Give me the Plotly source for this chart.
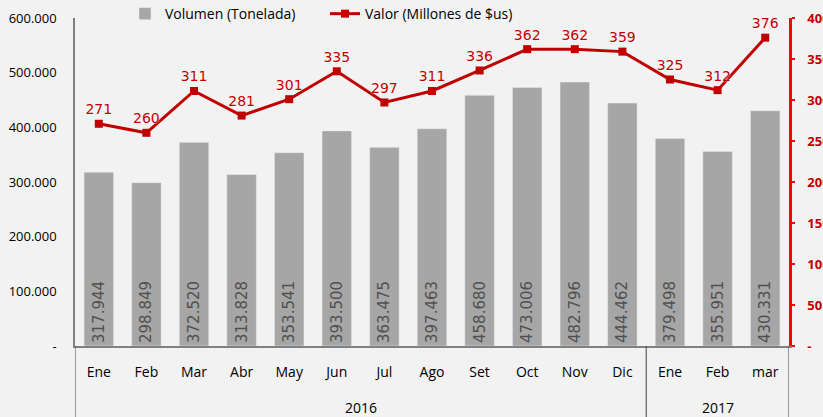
import plotly.graph_objects as go

months = ["Ene", "Feb", "Mar", "Abr", "May", "Jun", "Jul", "Ago", "Set", "Oct", "Nov", "Dic", "Ene", "Feb", "mar"]
years = ["2016", "2017"]
year_spans = [(0, 11), (12, 14)]
volumen = [317944, 298849, 372520, 313828, 353541, 393500, 363475, 397463, 458680, 473006, 482796, 444462, 379498, 355951, 430331]
valor = [271, 260, 311, 281, 301, 335, 297, 311, 336, 362, 362, 359, 325, 312, 376]

left_vals = [0, 100000, 200000, 300000, 400000, 500000, 600000]
left_text = ["-", "100.000", "200.000", "300.000", "400.000", "500.000", "600.000"]
right_vals = [0, 50, 100, 150, 200, 250, 300, 350, 400]
right_text = ["-", "50", "100", "150", "200", "250", "300", "350", "400"]

def fmt(v):
    return f"{v:,}".replace(",", ".")

pos = list(range(len(months)))

fig = go.Figure()
fig.add_trace(go.Bar(
    x=pos, y=volumen, name="Volumen (Tonelada)",
    marker_color="#a6a6a6",
    text=[fmt(v) for v in volumen], textposition="inside", insidetextanchor="start",
    textangle=-90, textfont=dict(size=15, color="#505050", family="DejaVu Sans"),
))
fig.add_trace(go.Scatter(
    x=pos, y=valor, name="Valor (Millones de $us)", yaxis="y2",
    mode="lines+markers+text",
    line=dict(color="#c00000", width=3),
    marker=dict(symbol="square", size=8, color="#c00000"),
    text=[str(v) for v in valor], textposition="top center",
    textfont=dict(size=14, color="#c00000", family="DejaVu Sans",
                  shadow="0px 0px 2px white"),
    cliponaxis=False,
))

fig.update_layout(
    width=823, height=417,
    paper_bgcolor="#f2f2f2", plot_bgcolor="#f2f2f2",
    margin=dict(l=75, r=34, t=18, b=71, autoexpand=False),
    bargap=0.38,
    font=dict(family="Open Sans", size=13, color="black"),
    showlegend=True,
    legend=dict(orientation="h", x=0.07, y=1.012, xanchor="left", yanchor="middle",
                bgcolor="rgba(0,0,0,0)", font=dict(size=14), itemwidth=30, entrywidth=155),
    xaxis=dict(
        range=[-0.5, 14.5], tickvals=pos, ticktext=months,
        showline=True, linecolor="#808080", linewidth=1.5,
        showgrid=False, ticks="", tickfont=dict(size=14, color="black"),
        ticklabelstandoff=12, automargin=False, zeroline=False,
    ),
    yaxis=dict(
        range=[0, 600000], tickvals=left_vals, ticktext=left_text,
        showgrid=False, showline=True, linecolor="#808080", linewidth=1.5,
        ticks="", tickfont=dict(size=13, color="black"), zeroline=False, automargin=False,
        ticklabelstandoff=14,
    ),
    yaxis2=dict(
        overlaying="y", side="right", range=[0, 400],
        tickvals=right_vals, ticktext=right_text,
        showgrid=False, showline=True, linecolor="#ff0000", linewidth=2.5,
        ticks="outside", ticklen=3, tickcolor="#ff0000", tickwidth=2,
        tickfont=dict(size=13, color="#c00000", weight="bold"), zeroline=False, automargin=False,
        ticklabelstandoff=10,
    ),
)

# group dividers below the axis and year labels
bounds = [year_spans[0][0] - 0.5, year_spans[0][1] + 0.5, year_spans[1][1] + 0.5]
for b in bounds:
    fig.add_shape(type="line", xref="x", yref="paper", x0=b, x1=b, y0=0, y1=-0.22,
                  line=dict(color="#404040", width=1))
for yr, (a, b) in zip(years, year_spans):
    fig.add_annotation(x=(a + b) / 2, y=-0.186, xref="x", yref="paper", text=yr,
                       showarrow=False, yanchor="middle", font=dict(size=14, color="black"))

fig.write_html("out.html", post_script="document.body.style.margin='0';",
               config={"displayModeBar": False})
